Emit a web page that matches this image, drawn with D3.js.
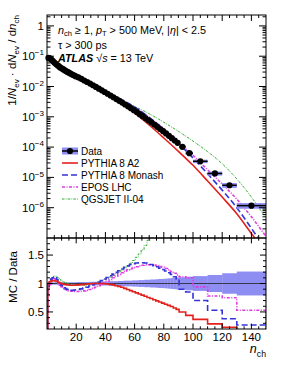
<!DOCTYPE html>
<html><head><meta charset="utf-8">
<script src="https://cdn.jsdelivr.net/npm/d3@7"></script>
<style>
body{margin:0;background:#fff}
svg{display:block;font-family:"Liberation Sans",Arial,Helvetica,sans-serif}
</style></head><body>
<svg id="c" width="283" height="366"></svg>
<script>
// ---------------- data ----------------
const binEdges = [0.5,1.5,2.5,3.5,4.5,5.5,6.5,7.5,8.5,9.5,10.5,11.5,12.5,13.5,14.5,15.5,16.5,17.5,18.5,19.5,20.5,
  22.5,24.5,26.5,28.5,30.5,32.5,34.5,36.5,38.5,40.5,42.5,44.5,46.5,48.5,50.5,52.5,54.5,56.5,58.5,60.5,62.5,64.5,66.5,68.5,70.5,72.5,74.5,76.5,78.5,80.5,82.5,84.5,86.5,88.5,90.5,
  95,100,110,120,130,150];
const dataValues = [0.0879,0.0851,0.0776,0.0692,0.0617,0.0562,0.0513,0.0468,0.0427,0.0398,0.0372,0.0347,0.0324,0.0302,0.0285,0.0269,0.0254,0.0240,0.0226,0.0214,
  0.0201,0.0179,0.0158,0.0141,0.0125,0.0110,0.00968,0.00851,0.00748,0.00658,0.00577,0.00505,0.00442,0.00386,0.00338,0.00294,0.00255,0.00221,0.00192,0.00166,
  0.00143,0.00122,0.00105,0.000895,0.000766,0.000652,0.000552,0.000468,0.000396,0.000336,0.000282,0.000236,0.000197,0.000165,0.000138,
  1.02e-4,6.3e-5,3.4e-5,1.35e-5,5.5e-6,1.17e-6];
const dataRelErr = [0.02,0.02,0.02,0.02,0.02,0.02,0.02,0.02,0.02,0.02,0.02,0.02,0.02,0.02,0.02,0.02,0.02,0.02,0.02,0.02,
  0.025,0.025,0.025,0.025,0.03,0.03,0.03,0.03,0.035,0.035,0.035,0.04,0.04,0.04,0.045,0.045,0.05,0.05,0.05,0.055,
  0.055,0.06,0.06,0.065,0.065,0.07,0.07,0.075,0.08,0.08,0.085,0.09,0.095,0.1,0.105,
  0.11,0.12,0.13,0.15,0.18,0.21];
const ratioA2 = [1.0,1.03,1.045,1.05,1.05,1.045,1.035,1.02,1.01,1.0,0.99,0.985,0.98,0.975,0.975,0.97,0.97,0.97,0.97,0.975,
  0.975,0.98,0.985,0.99,0.995,1.0,1.0,1.0,1.0,0.995,0.99,0.985,0.975,0.96,0.95,0.935,0.915,0.895,0.875,0.855,
  0.835,0.815,0.795,0.775,0.755,0.735,0.715,0.695,0.675,0.655,0.635,0.615,0.595,0.57,0.545,
  0.5,0.44,0.37,0.29,0.23,0.12];
const ratioMonash = [0.95,1.03,1.08,1.1,1.11,1.1,1.07,1.03,1.0,0.97,0.945,0.925,0.91,0.895,0.885,0.88,0.88,0.88,0.885,0.89,
  0.895,0.905,0.92,0.935,0.955,0.975,1.0,1.025,1.05,1.08,1.105,1.135,1.165,1.195,1.225,1.255,1.285,1.31,1.335,1.35,
  1.36,1.365,1.365,1.36,1.35,1.335,1.315,1.295,1.27,1.245,1.22,1.19,1.16,1.12,1.08,
  0.9,0.85,0.7,0.53,0.38,0.27];
const ratioEPOS = [0.9,0.98,1.05,1.09,1.1,1.08,1.04,1.0,0.97,0.945,0.925,0.91,0.895,0.885,0.875,0.87,0.865,0.86,0.86,0.86,
  0.86,0.865,0.87,0.88,0.895,0.915,0.935,0.96,0.985,1.01,1.04,1.07,1.1,1.13,1.16,1.19,1.215,1.24,1.26,1.28,
  1.295,1.31,1.32,1.325,1.33,1.33,1.325,1.315,1.3,1.285,1.265,1.24,1.21,1.18,1.15,
  1.12,1.1,0.94,0.78,0.75,0.53];
const ratioQGSJET = [0.78,0.98,1.07,1.11,1.13,1.13,1.115,1.095,1.07,1.05,1.035,1.02,1.01,1.0,0.99,0.985,0.98,0.975,0.975,0.97,
  0.97,0.97,0.97,0.975,0.985,0.995,1.01,1.03,1.05,1.07,1.09,1.115,1.14,1.17,1.2,1.235,1.27,1.31,1.355,1.405,
  1.46,1.52,1.59,1.67,1.76,1.86,1.96,2.07,2.19,2.31,2.44,2.58,2.73,2.89,3.06,
  3.3,3.7,4.3,5.2,6.5,9.0];

const mcNch = [1,5,10,20,30,40,50,60,70,80,90,100,110,120,130,140,150];
const mcA2 = [0.0871,0.0646,0.0398,0.0209,0.01175,0.00617,0.00302,0.00135,5.37e-4,2.0e-4,7.24e-5,2.51e-5,7.59e-6,2.24e-6,6.31e-7,1.41e-7,3.16e-8];
const mcMonash = [0.0832,0.0684,0.0386,0.01905,0.0114,0.00678,0.00392,0.00211,9.48e-4,3.83e-4,1.35e-4,4.37e-5,1.32e-5,3.8e-6,1.0e-6,2.09e-7,3.98e-8];
const mcEPOS = [0.0794,0.0676,0.0376,0.0184,0.01072,0.00631,0.0038,0.002,9.33e-4,3.98e-4,1.45e-4,5.37e-5,1.78e-5,6.03e-6,1.91e-6,5.01e-7,1.12e-7];
const mcQGSJET = [0.0708,0.07,0.0414,0.0207,0.01161,0.00665,0.0038,0.00221,0.00126,6.61e-4,3.31e-4,1.58e-4,7.08e-5,2.82e-5,8.91e-6,2.24e-6,4.47e-7];

const xTickValues = [20,40,60,80,100,120,140];
const yTickExponents = [0,-1,-2,-3,-4,-5,-6];
const ratioTickValues = [0.5,1,1.5];
const legendLabels = ["Data","PYTHIA 8 A2","PYTHIA 8 Monash","EPOS LHC","QGSJET II-04"];

// ---------------- layout ----------------
const L=47, R=266, T=15, M=238, B=329;
const x = d3.scaleLinear().domain([0,150]).range([L,R]);
const y = d3.scaleLog().domain([1e-7, Math.pow(10,0.36)]).range([M,T]);
const yr = d3.scaleLinear().domain([0.2,1.8]).range([B,M]);

const colA2="#e3211c", colMon="#3434d8", colEPOS="#e03ce0", colQGS="#2eaa2e", colBand="#8e8ef2";
const styles = [
  {c:colA2, w:1.6, d:null},
  {c:colMon, w:1.6, d:"6,3"},
  {c:colEPOS, w:1.6, d:"3,1.5,1,1.5"},
  {c:colQGS, w:1.0, d:"2.5,1.2,0.8,1.2"}
];

const svg = d3.select("#c");
const defs = svg.append("defs");
defs.append("clipPath").attr("id","clipTop").append("rect").attr("x",L).attr("y",T).attr("width",R-L).attr("height",M-T);
defs.append("clipPath").attr("id","clipRat").append("rect").attr("x",L).attr("y",M).attr("width",R-L).attr("height",B-M);

function rich(sel, parts, fs, subShift){
  let shift=0;
  const ss = subShift===undefined ? 0.28 : subShift;
  parts.forEach(p=>{
    const ts = sel.append("tspan").text(p.t);
    if(p.i) ts.attr("font-style","italic");
    if(p.b) ts.attr("font-weight","bold");
    let target=0;
    if(p.sub){ ts.attr("font-size", fs*0.7); target=fs*ss; }
    else if(p.sup){ ts.attr("font-size", fs*0.7); target=-fs*0.42; }
    if(target-shift!==0) ts.attr("dy", target-shift);
    shift=target;
  });
}

const bins = dataValues.map((v,i)=>({lo:binEdges[i], hi:binEdges[i+1], c:(binEdges[i]+binEdges[i+1])/2, v, e:dataRelErr[i]}));

// ---------------- top panel ----------------
const gTop = svg.append("g").attr("clip-path","url(#clipTop)");
const line = d3.line().x(d=>x(d[0])).y(d=>y(d[1])).curve(d3.curveMonotoneX);
[mcQGSJET, mcEPOS, mcMonash, mcA2].forEach((arr,k)=>{
  const s = styles[3-k];
  gTop.append("path").attr("d", line(mcNch.map((n,i)=>[n,arr[i]])))
    .attr("fill","none").attr("stroke",s.c).attr("stroke-width",s.w)
    .attr("stroke-dasharray",s.d);
});
// data band
const gData = svg.append("g");
gData.selectAll("rect.band").data(bins).join("rect")
  .attr("x",d=>x(d.lo)).attr("width",d=>x(d.hi)-x(d.lo))
  .attr("y",d=>y(d.v*(1+d.e))).attr("height",d=>y(d.v*(1-d.e))-y(d.v*(1+d.e)))
  .attr("fill",colBand);
gData.selectAll("line.hb").data(bins).join("line")
  .attr("x1",d=>x(d.lo)).attr("x2",d=>x(d.hi)).attr("y1",d=>y(d.v)).attr("y2",d=>y(d.v))
  .attr("stroke","#000").attr("stroke-width",1.5);
gData.selectAll("circle").data(bins).join("circle")
  .attr("cx",d=>x(d.c)).attr("cy",d=>y(d.v)).attr("r",3.1).attr("fill","#000");

// ---------------- ratio panel ----------------
const gRat = svg.append("g").attr("clip-path","url(#clipRat)");
gRat.selectAll("rect").data(bins).join("rect")
  .attr("x",d=>x(d.lo)).attr("width",d=>x(d.hi)-x(d.lo)+0.3)
  .attr("y",d=>yr(1+d.e)).attr("height",d=>yr(1-d.e)-yr(1+d.e))
  .attr("fill",colBand);
gRat.append("line").attr("x1",L).attr("x2",R).attr("y1",yr(1)).attr("y2",yr(1)).attr("stroke","#222").attr("stroke-width",0.8);
function stepPts(r){
  const pts=[[binEdges[0],0]];
  r.forEach((v,i)=>{pts.push([binEdges[i],v]); pts.push([binEdges[i+1],v]);});
  pts.push([binEdges[binEdges.length-1],0]);
  return pts;
}
const rline = d3.line().x(d=>x(d[0])).y(d=>yr(d[1]));
[ratioQGSJET, ratioEPOS, ratioMonash, ratioA2].forEach((arr,k)=>{
  const s = styles[3-k];
  gRat.append("path").attr("d", rline(stepPts(arr)))
    .attr("fill","none").attr("stroke",s.c).attr("stroke-width",s.w)
    .attr("stroke-dasharray",s.d);
});

// ---------------- frames & ticks ----------------
const axis = svg.append("g").attr("stroke","#000").attr("stroke-width",1);
axis.append("rect").attr("x",L).attr("y",T).attr("width",R-L).attr("height",M-T).attr("fill","none");
axis.append("rect").attr("x",L).attr("y",M).attr("width",R-L).attr("height",B-M).attr("fill","none");
const xMinor = d3.range(5,150,5).filter(v=>v%20!==0);
function xt(vals, len){
  vals.forEach(v=>{
    const xx=x(v);
    axis.append("line").attr("x1",xx).attr("x2",xx).attr("y1",T).attr("y2",T+len);
    axis.append("line").attr("x1",xx).attr("x2",xx).attr("y1",M).attr("y2",M-len);
    axis.append("line").attr("x1",xx).attr("x2",xx).attr("y1",M).attr("y2",M+len*0.9);
    axis.append("line").attr("x1",xx).attr("x2",xx).attr("y1",B).attr("y2",B-len*0.9);
  });
}
xt(xTickValues,6); xt(xMinor,3);
yTickExponents.forEach(k=>{
  const yy=y(Math.pow(10,k));
  axis.append("line").attr("x1",L).attr("x2",L+7).attr("y1",yy).attr("y2",yy);
  axis.append("line").attr("x1",R).attr("x2",R-7).attr("y1",yy).attr("y2",yy);
});
for(let k=-7;k<=0;k++){
  for(let m=2;m<=9;m++){
    const v=m*Math.pow(10,k);
    if(v>=y.domain()[1]) continue;
    const yy=y(v);
    axis.append("line").attr("x1",L).attr("x2",L+3.5).attr("y1",yy).attr("y2",yy);
    axis.append("line").attr("x1",R).attr("x2",R-3.5).attr("y1",yy).attr("y2",yy);
  }
}
d3.range(3,18).map(v=>v/10).forEach(v=>{
  const major = ratioTickValues.some(t=>Math.abs(t-v)<1e-6);
  const len = major?6:3;
  const yy=yr(v);
  axis.append("line").attr("x1",L).attr("x2",L+len).attr("y1",yy).attr("y2",yy);
  axis.append("line").attr("x1",R).attr("x2",R-len).attr("y1",yy).attr("y2",yy);
});

// ---------------- labels ----------------
const fsT=11.5;
const txt = svg.append("g").attr("fill","#000").attr("font-size",fsT);
yTickExponents.forEach(k=>{
  const t = txt.append("text").attr("x",44).attr("y",y(Math.pow(10,k))+4).attr("text-anchor","end");
  if(k===0) t.text("1");
  else rich(t,[{t:"10"},{t:"\u2212"+(-k),sup:true}],fsT);
});
ratioTickValues.forEach(v=>{
  txt.append("text").attr("x",44).attr("y",yr(v)+4).attr("text-anchor","end").text(String(v));
});
xTickValues.forEach(v=>{
  txt.append("text").attr("x",x(v)).attr("y",341).attr("text-anchor","middle").text(String(v));
});
const yt = svg.append("text").attr("font-size",11.5).attr("text-anchor","end")
  .attr("transform","translate(15.5,15) rotate(-90)");
rich(yt,[{t:"1/"},{t:"N",i:true},{t:"ev",sub:true},{t:" \u00b7 d"},{t:"N",i:true},{t:"ev",sub:true},{t:" / d"},{t:"n",i:true},{t:"ch",sub:true}],11.5);
svg.append("text").attr("font-size",11.5).attr("text-anchor","middle")
  .attr("transform","translate(17,277) rotate(-90)").text("MC / Data");
const xtit = svg.append("text").attr("font-size",12.5).attr("text-anchor","end").attr("x",266).attr("y",353);
rich(xtit,[{t:"n",i:true},{t:"ch",sub:true}],12.5);

// header
const fsH=10.8;
const h1 = svg.append("text").attr("x",58).attr("y",34).attr("font-size",fsH);
rich(h1,[{t:"n",i:true},{t:"ch",sub:true},{t:" \u2265 1, "},{t:"p",i:true},{t:"T",sub:true},{t:" > 500 MeV, |"},{t:"\u03b7",i:true},{t:"| < 2.5"}],fsH,0.18);
svg.append("text").attr("x",58).attr("y",48.5).attr("font-size",fsH).text("\u03c4 > 300 ps");
const h3 = svg.append("text").attr("x",58).attr("y",62).attr("font-size",fsH);
rich(h3,[{t:"ATLAS",b:true,i:true},{t:"  \u221a"},{t:"s",i:true},{t:" = 13 TeV"}],fsH);

// legend
const legY = [151,163,175,187,199];
const lg = svg.append("g");
lg.append("rect").attr("x",62).attr("y",legY[0]-3.5).attr("width",16).attr("height",7).attr("fill",colBand);
lg.append("line").attr("x1",62).attr("x2",78).attr("y1",legY[0]).attr("y2",legY[0]).attr("stroke","#000").attr("stroke-width",1.5);
lg.append("circle").attr("cx",70).attr("cy",legY[0]).attr("r",3.1).attr("fill","#000");
styles.forEach((s,i)=>{
  lg.append("line").attr("x1",62).attr("x2",78).attr("y1",legY[i+1]).attr("y2",legY[i+1])
    .attr("stroke",s.c).attr("stroke-width",s.w).attr("stroke-dasharray",s.d);
});
legendLabels.forEach((t,i)=>{
  lg.append("text").attr("x",81).attr("y",legY[i]+3.6).attr("font-size",10).text(t);
});
</script>
</body></html>
